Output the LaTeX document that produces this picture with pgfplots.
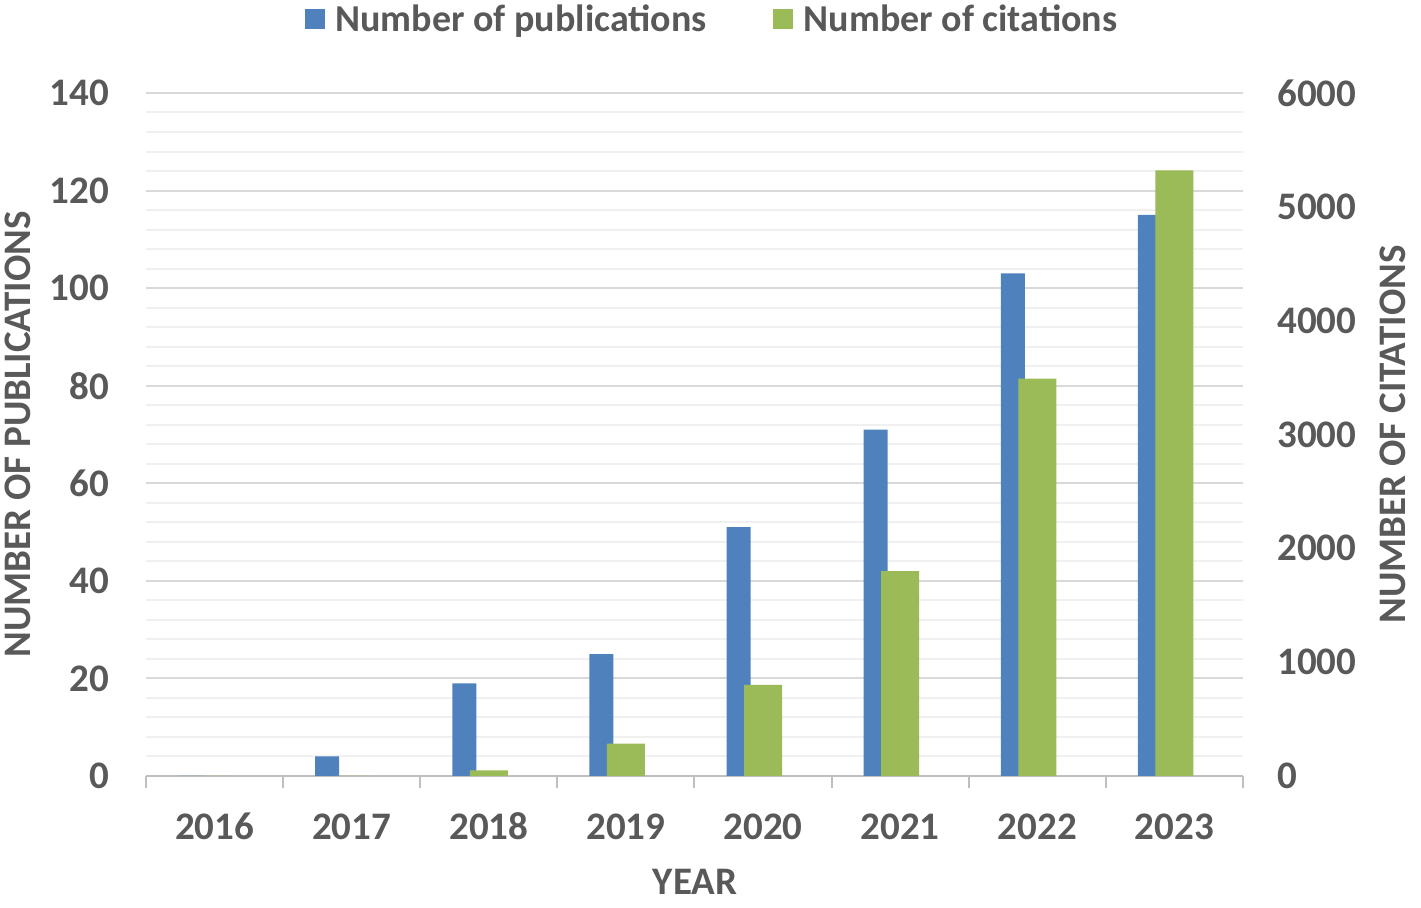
\documentclass[border=0pt]{standalone}
\usepackage{pgfplots}
\pgfplotsset{compat=1.18}
\usepackage{fontspec}
\setmainfont{Carlito}
\definecolor{pubblue}{HTML}{4F81BD}
\definecolor{citgreen}{HTML}{9BBB59}
\definecolor{textgray}{HTML}{595959}
\definecolor{gridmajor}{HTML}{D9D9D9}
\definecolor{gridminor}{HTML}{F0F0F0}
\definecolor{axisgray}{HTML}{BFBFBF}
\newcommand{\lab}{\fontsize{19.5}{23}\selectfont\bfseries}
\newcommand{\leg}{\fontsize{19}{23}\selectfont\bfseries}
\pgfplotstableread{
x pub cit
0 0 0
1 4 0
2 19 50
3 25 285
4 51 800
5 71 1800
6 103 3490
7 115 5320
}\data
\begin{document}
\begin{tikzpicture}
\useasboundingbox (-73pt,-66pt) rectangle (637.5pt,388pt);
\begin{axis}[
  scale only axis, width=548.5pt, height=341.5pt,
  xmin=-0.5, xmax=7.5, ymin=0, ymax=140,
  axis x line*=bottom, axis y line*=left,
  x axis line style={draw=axisgray, line width=1pt, -},
  y axis line style={draw=none},
  xtick={0,...,7},
  xticklabels={2016,2017,2018,2019,2020,2021,2022,2023},
  minor xtick={-0.5,0.5,...,7.5},
  major x tick style={draw=none},
  minor x tick style={draw=axisgray, line width=1pt},
  minor tick length=6pt,
  tick align=outside,
  ytick={0,20,...,140},
  minor y tick num=4,
  y tick style={draw=none},
  ymajorgrids, yminorgrids,
  major grid style={draw=gridmajor, line width=1pt},
  minor grid style={draw=gridminor, line width=1pt},
  tick label style={font=\lab, text=textgray},
  /pgf/number format/assume math mode=true,
  /pgf/number format/1000 sep={},
  xticklabel style={anchor=center, inner sep=0pt, yshift=-21pt},
  yticklabel style={anchor=east, inner sep=0pt, xshift=-14pt},
  xlabel={YEAR}, ylabel={NUMBER OF PUBLICATIONS},
  label style={font=\lab, text=textgray},
  xlabel style={at={(axis description cs:0.5005,-0.1552)}, anchor=center},
  ylabel style={at={(axis description cs:-0.1167,0.5)}, anchor=center},
]
\addplot[ybar, bar width=0.175, bar shift=-0.179, fill=pubblue, draw=none] table[x=x, y=pub] {\data};
\end{axis}
\begin{axis}[
  scale only axis, width=548.5pt, height=341.5pt,
  xmin=-0.5, xmax=7.5, ymin=0, ymax=6000,
  axis x line=none, axis y line*=right,
  y axis line style={draw=none},
  ytick={0,1000,...,6000},
  y tick style={draw=none},
  scaled y ticks=false,
  tick label style={font=\lab, text=textgray},
  /pgf/number format/assume math mode=true,
  /pgf/number format/1000 sep={},
  yticklabel style={anchor=west, inner sep=0pt, xshift=17pt},
  ylabel={NUMBER OF CITATIONS},
  label style={font=\lab, text=textgray},
  ylabel style={at={(axis description cs:1.1367,0.5)}, anchor=center},
  legend columns=2,
  legend style={at={(axis description cs:0.515,1.1069)}, anchor=center,
    draw=none, fill=none, font=\leg, text=textgray,
    nodes={inner sep=0pt},
    /tikz/every odd column/.append style={column sep=5.5pt},
    /tikz/every even column/.append style={column sep=33pt}},
]
\addlegendimage{ybar, fill=pubblue, draw=none, legend image code/.code={\fill[pubblue] (0pt,-4.5pt) rectangle (10pt,5.5pt);}}
\addlegendentry{Number of publications}
\addplot[ybar, bar width=0.277, bar shift=0, fill=citgreen, draw=none,
  legend image code/.code={\fill[citgreen] (0pt,-4.5pt) rectangle (10pt,5.5pt);}] table[x=x, y=cit] {\data};
\addlegendentry{Number of citations}
\end{axis}
\end{tikzpicture}
\end{document}
